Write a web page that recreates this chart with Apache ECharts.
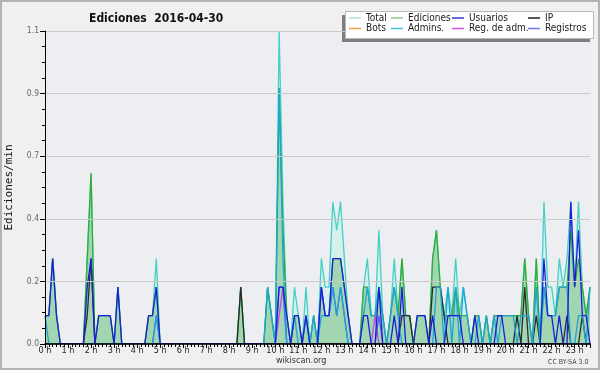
<!DOCTYPE html>
<html><head><meta charset="utf-8">
<script src="https://cdn.jsdelivr.net/npm/echarts@6/dist/echarts.min.js"></script>
<style>html,body{margin:0;padding:0;background:#f0f0f0}#c{width:600px;height:370px}</style>
</head><body><div id="c"></div>
<script>
// 10-minute bins, index 0 = 0h00 ... 142 = 23h40
const yTicks = [0, 0.22, 0.44, 0.66, 0.88, 1.1];
const total = [
0.1,0.1,0.3,0.1,0,0,  0,0,0,0,0,0.3,  0.6,0,0.1,0.1,0.1,0.1,  0,0.2,0,0,0,0,
0,0,0,0.1,0.1,0.3,  0,0,0,0,0,0,  0,0,0,0,0,0,  0,0,0,0,0,0,
0,0,0,0.2,0,0,  0,0,0,0,0.2,0.1,  0,1.1,0.5,0.1,0,0.2,  0.1,0,0.2,0,0.1,0,
0.3,0.2,0.2,0.5,0.4,0.5,  0.3,0.1,0,0,0,0.2,  0.3,0.1,0.1,0.4,0.1,0,  0.1,0.3,0.1,0.3,0.1,0.1,
0,0.1,0.1,0.1,0,0.3,  0.4,0.2,0.1,0.2,0.1,0.3,  0.1,0.2,0.1,0,0.1,0.1,  0,0.1,0,0.1,0.1,0.1,
0.1,0.1,0.1,0.1,0.1,0.3,  0.1,0,0.3,0,0.5,0.2,  0.2,0.1,0.3,0.2,0.3,0.5,  0.2,0.5,0.2,0.1,0.2];
const ediciones = [
0.1,0.1,0.3,0.1,0,0,  0,0,0,0,0,0.3,  0.6,0,0.1,0.1,0.1,0.1,  0,0.2,0,0,0,0,
0,0,0,0.1,0.1,0.2,  0,0,0,0,0,0,  0,0,0,0,0,0,  0,0,0,0,0,0,
0,0,0,0.2,0,0,  0,0,0,0,0.2,0.1,  0,0.9,0.4,0.1,0,0.1,  0.1,0,0.1,0,0.1,0,
0.2,0.1,0.1,0.3,0.3,0.3,  0.2,0.1,0,0,0,0.2,  0.2,0.1,0.1,0.2,0.1,0,  0.1,0.2,0.1,0.3,0.1,0.1,
0,0.1,0.1,0.1,0,0.3,  0.4,0.2,0.1,0.1,0.1,0.2,  0.1,0.1,0.1,0,0.1,0.1,  0,0.1,0,0.1,0.1,0.1,
0.1,0.1,0.1,0.1,0.1,0.3,  0.1,0,0.3,0,0.2,0.1,  0.1,0.1,0.2,0.2,0.2,0.4,  0.2,0.3,0.2,0.1,0.2];
const usuarios = [
0.1,0.1,0.3,0.1,0,0,  0,0,0,0,0,0.2,  0.3,0,0.1,0.1,0.1,0.1,  0,0.2,0,0,0,0,
0,0,0,0.1,0.1,0.2,  0,0,0,0,0,0,  0,0,0,0,0,0,  0,0,0,0,0,0,
0,0,0,0,0,0,  0,0,0,0,0,0,  0,0.2,0.2,0.1,0,0.1,  0.1,0,0.1,0,0,0,
0.2,0.1,0.1,0.3,0.3,0.3,  0.2,0.1,0,0,0,0.1,  0.1,0,0,0.2,0,0,  0,0.1,0,0.2,0,0,
0,0.1,0.1,0.1,0,0.1,  0,0,0,0.1,0.1,0.1,  0.1,0,0,0,0.1,0,  0,0,0,0,0.1,0.1,
0,0,0,0,0,0,  0,0,0,0,0.3,0.1,  0.1,0,0.1,0,0,0.5,  0.2,0.4,0.1,0.1,0];
const ip = [
0,0,0,0,0,0,  0,0,0,0,0,0.1,  0.3,0,0,0,0,0,  0,0,0,0,0,0,
0,0,0,0,0,0,  0,0,0,0,0,0,  0,0,0,0,0,0,  0,0,0,0,0,0,
0,0,0,0.2,0,0,  0,0,0,0,0,0,  0,0,0,0,0,0,  0,0,0,0,0,0,
0,0,0,0,0,0,  0,0,0,0,0,0,  0,0,0,0,0,0,  0,0,0,0.1,0.1,0.1,
0,0,0,0,0,0.2,  0.2,0.2,0.1,0,0,0,  0,0,0,0,0,0,  0,0,0,0,0,0,
0,0,0,0.1,0,0.2,  0,0,0.1,0,0,0,  0,0,0,0,0.1,0,  0,0,0.1,0,0];
const bots = [
0,0,0,0,0,0,  0,0,0,0,0,0,  0,0,0,0,0,0,  0,0,0,0,0,0,
0,0,0,0,0,0,  0,0,0,0,0,0,  0,0,0,0,0,0,  0,0,0,0,0,0,
0,0,0,0,0,0,  0,0,0,0,0,0,  0,0,0,0,0,0,  0,0,0,0,0,0,
0,0,0,0,0,0,  0,0,0,0,0,0,  0,0,0,0,0,0,  0,0,0,0,0,0,
0,0,0,0,0,0,  0,0,0,0,0,0,  0,0,0,0,0,0,  0,0,0,0,0,0,
0,0,0,0,0,0,  0,0,0,0,0,0,  0,0,0,0,0,0,  0,0,0,0,0];
const admins = [
0.1,0,0,0,0,0,  0,0,0,0,0,0,  0,0,0,0,0,0,  0,0,0,0,0,0,
0,0,0,0,0,0.1,  0,0,0,0,0,0,  0,0,0,0,0,0,  0,0,0,0,0,0,
0,0,0,0,0,0,  0,0,0,0,0.2,0.1,  0,0.9,0.3,0,0,0.1,  0,0,0.1,0,0.1,0,
0.1,0.1,0.1,0.2,0.1,0.2,  0.1,0,0,0,0,0.1,  0.2,0.1,0.1,0.2,0.1,0,  0.1,0.2,0.1,0,0,0,
0,0,0,0,0,0,  0.2,0.2,0,0.2,0,0.2,  0,0.2,0.1,0,0,0.1,  0,0.1,0,0.1,0,0.1,
0.1,0.1,0.1,0,0.1,0.1,  0.1,0,0.2,0,0.2,0.1,  0.1,0.1,0.2,0.2,0.2,0,  0,0.1,0.1,0,0.2];
const regAdm = [
0,0,0,0,0,0,  0,0,0,0,0,0,  0,0,0,0,0,0,  0,0,0,0,0,0,
0,0,0,0,0,0,  0,0,0,0,0,0,  0,0,0,0,0,0,  0,0,0,0,0,0,
0,0,0,0,0,0,  0,0,0,0,0,0,  0,0.1,0.2,0,0,0,  0,0,0,0,0,0,
0,0,0,0,0,0,  0,0,0,0,0,0,  0,0,0.1,0,0,0,  0,0,0,0,0,0,
0,0,0,0,0,0,  0,0,0,0,0,0,  0,0,0,0,0,0,  0,0,0,0,0,0,
0,0,0,0,0,0,  0,0,0,0,0,0,  0,0,0,0,0,0,  0,0,0,0,0];
const registros = [
0,0,0,0,0,0,  0,0,0,0,0,0,  0,0,0,0,0,0,  0,0,0,0,0,0,
0,0,0,0,0,0.1,  0,0,0,0,0,0,  0,0,0,0,0,0,  0,0,0,0,0,0,
0,0,0,0,0,0,  0,0,0,0,0,0,  0,0.2,0.2,0,0,0,  0,0,0,0,0,0,
0.2,0.1,0.1,0.2,0.1,0.2,  0.1,0,0,0,0,0,  0,0,0,0.1,0,0,  0,0,0,0,0,0,
0,0,0,0,0,0,  0,0,0,0,0,0,  0,0,0,0,0,0,  0,0,0,0,0,0,
0,0,0,0,0,0,  0,0,0,0,0,0,  0,0,0,0,0,0,  0,0,0,0,0];

const FONT = "'DejaVu Sans Condensed', 'DejaVu Sans', sans-serif";
const pts = a => a.map((v, i) => [i, v]);
const line = (name, arr, color, extra) => Object.assign({
  name, type: 'line', data: pts(arr), symbol: 'none', silent: true, z: 2,
  lineStyle: { color, width: 1.3 }, itemStyle: { color }
}, extra || {});

const legendCols = [349, 391, 452, 528];
const legendRows = [13, 23.5];
const legendItems = [
  ['Total', '#a6e2da'], ['Ediciones', '#86cc86'], ['Usuarios', '#3434e0'], ['IP', '#202020'],
  ['Bots', '#f0a040'], ['Admins.', '#40c4e0'], ['Reg. de adm.', '#d050e8'], ['Registros', '#7272f0']
];

const chart = echarts.init(document.getElementById('c'), null, { renderer: 'canvas' });
chart.setOption({
  animation: false,
  backgroundColor: '#f0f0f0',
  title: {
    text: 'Ediciones  2016-04-30', left: 84, top: 8,
    textStyle: { fontFamily: FONT, fontSize: 12, fontWeight: 'bold', color: '#111' }
  },
  legend: legendItems.map((it, k) => ({
    data: [{ name: it[0], itemStyle: { color: it[1] } }],
    left: legendCols[k % 4], top: legendRows[Math.floor(k / 4)],
    padding: 0, icon: 'rect', itemWidth: 12, itemHeight: 1.5, z: 10,
    selectedMode: false,
    textStyle: { fontFamily: FONT, fontSize: 10, color: '#1a1a1a' }
  })),
  graphic: [
    { type: 'rect', shape: { x: 1, y: 1, width: 598, height: 368 }, style: { fill: 'none', stroke: '#b4b4b4', lineWidth: 2 }, z: 0 },
    { type: 'rect', shape: { x: 342, y: 15, width: 248, height: 27 }, style: { fill: '#7e7e7e' }, z: 5 },
    { type: 'rect', shape: { x: 345.5, y: 11.5, width: 248, height: 27 }, style: { fill: '#ffffff', stroke: '#b8b8b8', lineWidth: 1 }, z: 6 },
    { type: 'text', left: 276, top: 356, style: { text: 'wikiscan.org', font: "9px " + FONT, fill: '#333' } },
    { type: 'text', left: 548, top: 359, style: { text: 'CC BY-SA 3.0', font: "7px " + FONT, fill: '#444' } }
  ],
  grid: { left: 45, right: 10, top: 31, bottom: 26, show: true, backgroundColor: '#eceef1', borderWidth: 0,
          containLabel: false, outerBoundsMode: 'none' },
  xAxis: {
    type: 'value', min: 0, max: 142, interval: 6, z: 5,
    axisLine: { lineStyle: { color: '#000', width: 1.6 } },
    axisTick: { length: 4, lineStyle: { color: '#000' } },
    minorTick: { show: true, splitNumber: 6, length: 3, lineStyle: { color: '#000' } },
    splitLine: { show: false },
    axisLabel: { margin: 2, fontFamily: FONT, fontSize: 9, color: '#222', formatter: v => (v / 6) + ' h', showMaxLabel: false }
  },
  yAxis: {
    type: 'value', min: 0, max: 1.1, interval: 0.22, z: 5,
    name: 'Ediciones/min', nameLocation: 'middle', nameRotate: 90, nameGap: 30,
    nameTextStyle: { fontFamily: "'DejaVu Sans Mono', monospace", fontSize: 11, color: '#111' },
    axisLine: { show: true, lineStyle: { color: '#000' } },
    axisTick: { show: true, length: 5, lineStyle: { color: '#000' } },
    minorTick: { show: true, splitNumber: 4, length: 3, lineStyle: { color: '#000' } },
    splitLine: { lineStyle: { color: '#c9c9c9', width: 1 } },
    axisLabel: { margin: 6, fontFamily: FONT, fontSize: 8.5, color: '#666', formatter: v => v.toFixed(1) }
  },
  series: [
    line('Total', total, '#44d0c6', { areaStyle: { color: '#d6f0ec', opacity: 1 } }),
    line('Ediciones', ediciones, '#34ac34', { areaStyle: { color: 'rgba(64,168,64,0.5)' } }),
    line('Bots', bots, '#f0a040'),
    line('Reg. de adm.', regAdm, '#c844e8'),
    line('Registros', registros, '#5a5af4'),
    line('IP', ip, '#2a2a2a'),
    line('Admins.', admins, '#1ea4d8'),
    line('Usuarios', usuarios, '#1c1cdc')
  ]
});
</script></body></html>
